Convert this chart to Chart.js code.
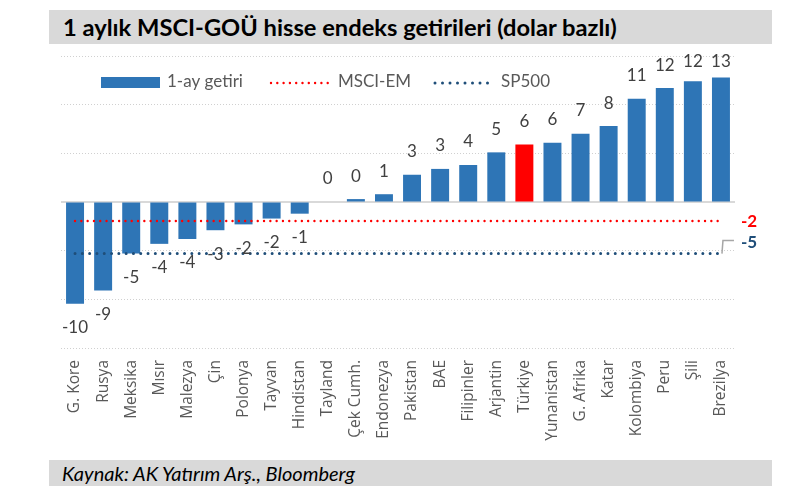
<!DOCTYPE html>
<html><head><meta charset="utf-8">
<script src="https://cdn.jsdelivr.net/npm/chart.js@4"></script>
<style>
html,body{margin:0;padding:0;background:#fff;}
#wrap{position:relative;width:787px;height:490px;overflow:hidden;background:#fff;}
#title{position:absolute;left:49px;top:10px;width:723px;height:34px;background:#d9d9d9;font:bold 23.7px Lato,sans-serif;line-height:34px;padding-left:14px;box-sizing:border-box;color:#000;white-space:nowrap;}
#foot{position:absolute;left:49px;top:460px;width:723px;height:26px;background:#d9d9d9;font:italic 20px Lato,sans-serif;line-height:26px;padding-left:13px;box-sizing:border-box;color:#000;white-space:nowrap;}
#c{position:absolute;left:0;top:0;}
</style></head>
<body>
<div id="wrap">
<canvas id="c" width="787" height="490"></canvas>
<div id="title">1 aylık MSCI-GOÜ hisse endeks getirileri (dolar bazlı)</div>
<div id="foot">Kaynak: AK Yatırım Arş., Bloomberg</div>
</div>
<script>
const categories = ["G. Kore","Rusya","Meksika","Mısır","Malezya","Çin","Polonya","Tayvan","Hindistan","Tayland","Çek Cumh.","Endonezya","Pakistan","BAE","Filipinler","Arjantin","Türkiye","Yunanistan","G. Afrika","Katar","Kolombiya","Peru","Şili","Brezilya"];
const returns1m = [-10.45,-9.1,-5.3,-4.3,-3.8,-2.9,-2.3,-1.7,-1.2,0.0,0.3,0.8,2.8,3.4,3.8,5.1,5.9,6.1,7.0,7.8,10.6,11.7,12.4,12.8];
const msciEM = [-1.95,-1.95,-1.95,-1.95,-1.95,-1.95,-1.95,-1.95,-1.95,-1.95,-1.95,-1.95,-1.95,-1.95,-1.95,-1.95,-1.95,-1.95,-1.95,-1.95,-1.95,-1.95,-1.95,-1.95];
const sp500 = [-5.3,-5.3,-5.3,-5.3,-5.3,-5.3,-5.3,-5.3,-5.3,-5.3,-5.3,-5.3,-5.3,-5.3,-5.3,-5.3,-5.3,-5.3,-5.3,-5.3,-5.3,-5.3,-5.3,-5.3];
const seriesNames = ["1-ay getiri","MSCI-EM","SP500"];
const highlight = "Türkiye";

const BLUE = '#2E75B6', RED = '#FF0000', NAVY = '#1F4E79';
const fmt = v => { const r = Math.round(v); return (r === 0 ? 0 : r).toString(); };

const extras = {
  id: 'extras',
  beforeDatasetsDraw(chart) {
    const {ctx, chartArea, scales:{y}} = chart;
    const y0 = y.getPixelForValue(0);
    ctx.save();
    ctx.strokeStyle = '#d9d9d9';
    ctx.lineWidth = 2;
    ctx.beginPath(); ctx.moveTo(chartArea.left, y0); ctx.lineTo(chartArea.right, y0); ctx.stroke();
    ctx.restore();
  },
  afterDatasetsDraw(chart) {
    const {ctx, chartArea} = chart;
    ctx.save();
    const bm = chart.getDatasetMeta(0);
    ctx.font = '17px Lato, sans-serif';
    ctx.fillStyle = '#404040';
    ctx.textAlign = 'center';
    ctx.textBaseline = 'middle';
    bm.data.forEach((el, i) => {
      const v = returns1m[i];
      let ty = v >= 0 ? el.y - 23 : el.y + 24;
      ty = Math.max(ty, 62);
      ctx.fillText(fmt(v), el.x, ty);
    });
    const em = chart.getDatasetMeta(1).data; const eLast = em[em.length-1];
    const sm = chart.getDatasetMeta(2).data; const sLast = sm[sm.length-1];
    ctx.font = 'bold 17px Lato, sans-serif';
    ctx.textAlign = 'left';
    ctx.fillStyle = RED;
    ctx.fillText(fmt(msciEM[msciEM.length-1]), chartArea.right + 6, eLast.y + 1);
    ctx.strokeStyle = '#a6a6a6'; ctx.lineWidth = 1.5;
    ctx.beginPath();
    ctx.moveTo(sLast.x + 1, sLast.y);
    ctx.lineTo(sLast.x + 2, sLast.y - 13);
    ctx.lineTo(sLast.x + 13, sLast.y - 13);
    ctx.stroke();
    ctx.fillStyle = NAVY;
    ctx.fillText(fmt(sp500[sp500.length-1]), chartArea.right + 6, sLast.y - 11);
    // legend
    ctx.fillStyle = BLUE;
    ctx.fillRect(101, 77, 59, 11);
    ctx.font = '17px Lato, sans-serif';
    ctx.fillStyle = '#595959';
    ctx.textBaseline = 'middle';
    ctx.fillText(seriesNames[0], 167, 82);
    ctx.fillText(seriesNames[1], 338, 82);
    ctx.fillText(seriesNames[2], 501, 82);
    ctx.lineCap = 'round';
    ctx.strokeStyle = RED; ctx.lineWidth = 2.4; ctx.setLineDash([0, 6.3]);
    ctx.beginPath(); ctx.moveTo(271, 83); ctx.lineTo(330, 83); ctx.stroke();
    ctx.strokeStyle = NAVY; ctx.lineWidth = 3; ctx.setLineDash([0, 7.5]);
    ctx.beginPath(); ctx.moveTo(435, 83); ctx.lineTo(489, 83); ctx.stroke();
    ctx.restore();
  }
};

new Chart(document.getElementById('c'), {
  type: 'bar',
  data: {
    labels: categories,
    datasets: [
      { label: seriesNames[0], data: returns1m, order: 2,
        backgroundColor: categories.map(c => c === highlight ? RED : BLUE),
        categoryPercentage: 1, barPercentage: 0.64 },
      { type: 'line', label: seriesNames[1], data: msciEM, order: 0,
        borderColor: RED, borderWidth: 2.4, borderDash: [0, 6.3], borderCapStyle: 'round',
        pointRadius: 0, fill: false },
      { type: 'line', label: seriesNames[2], data: sp500, order: 1,
        borderColor: NAVY, borderWidth: 3, borderDash: [0, 7.3], borderCapStyle: 'round',
        pointRadius: 0, fill: false }
    ]
  },
  options: {
    responsive: false,
    animation: false,
    layout: { padding: { left: 61, right: 52, top: 56, bottom: 0 } },
    plugins: { legend: { display: false }, tooltip: { enabled: false }, title: { display: false } },
    scales: {
      x: {
        grid: { display: false, drawTicks: false },
        border: { display: false },
        ticks: { autoSkip: false, maxRotation: 90, minRotation: 90, padding: 12,
                 font: { family: 'Open Sans', size: 15.5 }, color: '#595959' },
        afterFit(scale) { scale.height = 142; }
      },
      y: {
        min: -15, max: 15,
        ticks: { display: false, stepSize: 5 },
        grid: { drawTicks: false, color: ctx => ctx.tick && ctx.tick.value === 0 ? 'rgba(0,0,0,0)' : '#d0d0d0', lineWidth: 1 },
        border: { display: false, dash: [1, 2] },
        afterFit(scale) { scale.width = 0; }
      }
    }
  },
  plugins: [extras]
});
</script>
</body></html>
